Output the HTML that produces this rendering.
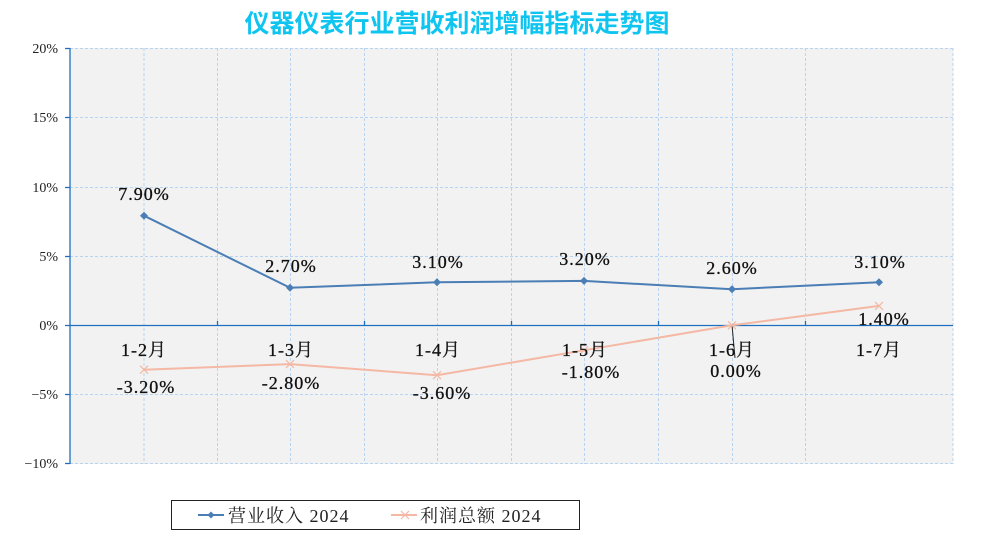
<!DOCTYPE html>
<html><head><meta charset="utf-8"><style>
body{margin:0;background:#fff;}
svg text{font-family:"Liberation Serif","Noto Serif CJK SC",serif;}
</style></head><body>
<svg width="985" height="542" xmlns="http://www.w3.org/2000/svg">
<text x="457" y="32" text-anchor="middle" style="font-family:'Liberation Sans','Noto Sans CJK SC',sans-serif" font-size="25" font-weight="bold" fill="#10c4f0">仪器仪表行业营收利润增幅指标走势图</text>
<rect x="70" y="48" width="883" height="416" fill="#f2f2f2"/>
<g stroke="#b8d4f0" stroke-width="1" stroke-dasharray="3,2">
<line x1="70" y1="48.5" x2="953" y2="48.5"/><line x1="70" y1="117.5" x2="953" y2="117.5"/>
<line x1="70" y1="187.5" x2="953" y2="187.5"/><line x1="70" y1="256.5" x2="953" y2="256.5"/>
<line x1="70" y1="394.5" x2="953" y2="394.5"/><line x1="70" y1="463.5" x2="953" y2="463.5"/>
<line x1="144" y1="48" x2="144" y2="464"/><line x1="217.5" y1="48" x2="217.5" y2="464"/>
<line x1="290.5" y1="48" x2="290.5" y2="464"/><line x1="364.5" y1="48" x2="364.5" y2="464"/>
<line x1="437.5" y1="48" x2="437.5" y2="464"/><line x1="511.5" y1="48" x2="511.5" y2="464"/>
<line x1="584.5" y1="48" x2="584.5" y2="464"/><line x1="658.5" y1="48" x2="658.5" y2="464"/>
<line x1="732.5" y1="48" x2="732.5" y2="464"/><line x1="805.5" y1="48" x2="805.5" y2="464"/>
<line x1="953" y1="48" x2="953" y2="464"/>
</g>
<g stroke="#1f6fbf" stroke-width="1.3">
<line x1="70" y1="48" x2="70" y2="464"/>
<line x1="70" y1="325.5" x2="953" y2="325.5"/>
<line x1="65" y1="48.5" x2="70" y2="48.5"/><line x1="65" y1="117.5" x2="70" y2="117.5"/>
<line x1="65" y1="187.5" x2="70" y2="187.5"/><line x1="65" y1="256.5" x2="70" y2="256.5"/>
<line x1="65" y1="325.5" x2="70" y2="325.5"/><line x1="65" y1="394.5" x2="70" y2="394.5"/>
<line x1="65" y1="463.5" x2="70" y2="463.5"/>
<line x1="217.5" y1="321" x2="217.5" y2="325"/><line x1="364.5" y1="321" x2="364.5" y2="325"/>
<line x1="511.5" y1="321" x2="511.5" y2="325"/><line x1="658.5" y1="321" x2="658.5" y2="325"/>
<line x1="805.5" y1="321" x2="805.5" y2="325"/>
</g>
<g font-size="14" text-anchor="end" fill="#222">
<text x="58" y="53">20%</text><text x="58" y="122">15%</text><text x="58" y="192">10%</text>
<text x="58" y="261">5%</text><text x="58" y="330">0%</text><text x="58" y="399">−5%</text><text x="58" y="468">−10%</text>
</g>
<line x1="732" y1="325" x2="735" y2="358" stroke="#222" stroke-width="1"/>
<polyline points="144,369.7 290,364.1 437,375.2 584,350.3 732,325.3 879,305.9" fill="none" stroke="#f4b8a4" stroke-width="2"/>
<g stroke="#f4b8a4" stroke-width="1.2">
<path d="M140,365.7l8,8M148,365.7l-8,8M286,360.1l8,8M294,360.1l-8,8M433,371.2l8,8M441,371.2l-8,8M580,346.3l8,8M588,346.3l-8,8M728,321.3l8,8M736,321.3l-8,8M875,301.9l8,8M883,301.9l-8,8"/>
</g>
<polyline points="144,215.7 290,287.8 437,282.3 584,280.9 732,289.2 879,282.3" fill="none" stroke="#4a7eb5" stroke-width="2"/>
<g fill="#4a7eb5">
<path d="M144,211.7l4,4l-4,4l-4,-4z M290,283.8l4,4l-4,4l-4,-4z M437,278.3l4,4l-4,4l-4,-4z M584,276.9l4,4l-4,4l-4,-4z M732,285.2l4,4l-4,4l-4,-4z M879,278.3l4,4l-4,4l-4,-4z"/>
</g>
<g font-size="18" text-anchor="middle" fill="#111" letter-spacing="1" stroke="#111" stroke-width="0.3">
<text x="144" y="200">7.90%</text><text x="291" y="272">2.70%</text><text x="438" y="268">3.10%</text>
<text x="585" y="265">3.20%</text><text x="732" y="274">2.60%</text><text x="880" y="268">3.10%</text>
<text x="146" y="393">-3.20%</text><text x="291" y="389">-2.80%</text><text x="442" y="399">-3.60%</text>
<text x="591" y="378">-1.80%</text><text x="736" y="377">0.00%</text><text x="884" y="325">1.40%</text>
<text x="144" y="356">1-2月</text><text x="291" y="356">1-3月</text><text x="438" y="356">1-4月</text>
<text x="585" y="356">1-5月</text><text x="732" y="356">1-6月</text><text x="879" y="356">1-7月</text>
</g>
<rect x="171.5" y="500.5" width="408" height="29" fill="#fff" stroke="#222" stroke-width="1"/>
<line x1="198" y1="515" x2="224" y2="515" stroke="#4a7eb5" stroke-width="2"/>
<path d="M211,511.5l3.5,3.5l-3.5,3.5l-3.5,-3.5z" fill="#4a7eb5"/>
<line x1="391" y1="515" x2="417" y2="515" stroke="#f4b8a4" stroke-width="2"/>
<path d="M401,511l8,8M409,511l-8,8" stroke="#f4b8a4" stroke-width="1.2"/>
<g font-size="18" fill="#222" letter-spacing="1"><text x="228" y="522">营业收入 2024</text><text x="420" y="522">利润总额 2024</text></g>
</svg>
</body></html>
